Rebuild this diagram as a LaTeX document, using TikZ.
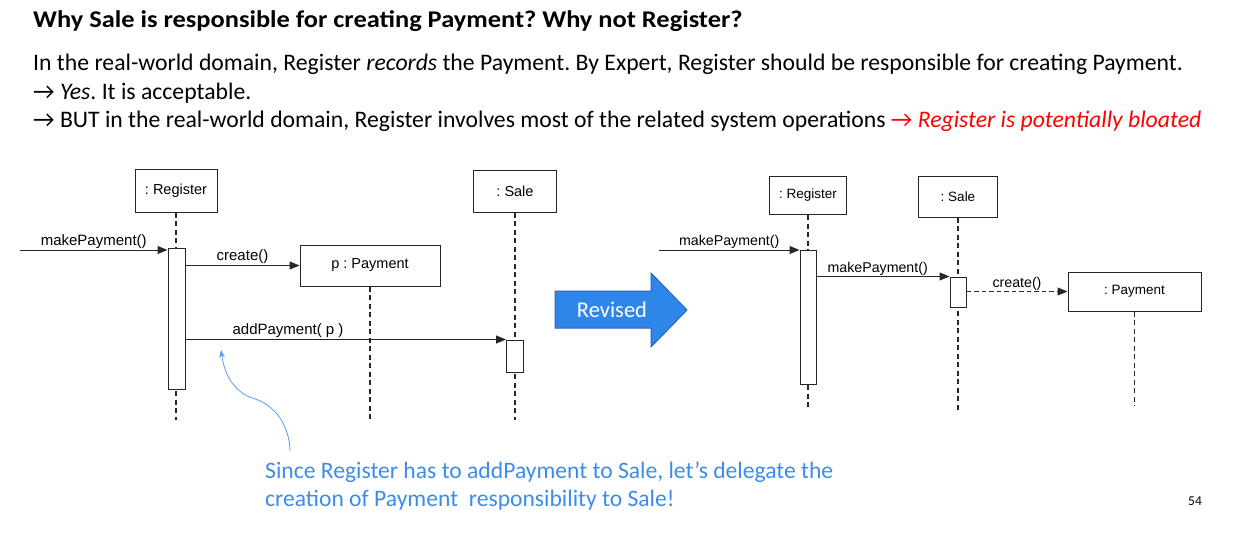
\documentclass[tikz,border=0pt]{standalone}
\usepackage{fontspec}
\setmainfont{Carlito}
\newfontfamily\diagfont{Liberation Sans}
\usetikzlibrary{arrows.meta}
\frenchspacing

\definecolor{lineclr}{HTML}{262626}
\definecolor{noteblue}{HTML}{3D8BEF}
\definecolor{revfill}{HTML}{2F86EA}
\definecolor{revedge}{HTML}{2A66B8}

\tikzset{
  objL/.style={draw=lineclr, line width=1pt, fill=white, inner sep=0pt,
    font=\diagfont\fontsize{14.5}{16}\selectfont},
  objR/.style={draw=lineclr, line width=1pt, fill=white, inner sep=0pt,
    font=\diagfont\fontsize{13.5}{15}\selectfont},
  actbar/.style={draw=lineclr, line width=1pt, fill=white, inner sep=0pt},
  life/.style={draw=lineclr, line width=1.1pt, dash pattern=on 5pt off 3.5pt},
  msg/.style={draw=lineclr, line width=1pt, -{Triangle[length=10pt,width=8pt]}},
  msgdash/.style={msg, dash pattern=on 4.5pt off 3pt},
  lblL/.style={above, inner sep=1pt, font=\diagfont\fontsize{15}{17}\selectfont},
  lblR/.style={above, inner sep=1pt, font=\diagfont\fontsize{14.2}{16}\selectfont},
  bodytext/.style={anchor=base west, inner sep=0pt, font=\fontsize{23.7}{28}\selectfont},
  notetext/.style={anchor=base west, inner sep=0pt, text=noteblue, font=\fontsize{23.6}{28}\selectfont},
}

\begin{document}
\begin{tikzpicture}[x=1pt, y=-1pt]
\useasboundingbox (0,0) rectangle (1235,559);

% heading and explanation
\node[bodytext, font=\bfseries\fontsize{24}{28}\selectfont] (title) at (33,28)
  {\scalebox{1.1}[1]{Why Sale is responsible for creating Payment? Why not Register?}};
\node[bodytext] (line1) at (33,71)
  {In the real-world domain, Register \textit{records} the Payment. By Expert, Register should be responsible for creating Payment.};
\node[bodytext] (line2) at (33,100)
  {→ \textit{Yes}. It is acceptable.};
\node[bodytext] (line3) at (33,128)
  {→ BUT in the real-world domain, Register involves most of the related system operations \textcolor{red}{→ \textit{Register is potentially bloated}}};

% ---------- original design ----------
\node[objL, minimum width=82pt, minimum height=42pt] (regL) at (176,191) {: Register};
\node[objL, minimum width=140pt, minimum height=41pt] (payL) at (370,265.5) {p : Payment};
\node[objL, minimum width=83pt, minimum height=41pt] (saleL) at (515,191.5) {: Sale};

\coordinate (regLend) at (176,420);
\coordinate (payLend) at (370,420);
\coordinate (saleLend) at (515,420);
\draw[life] (regL.south) -- (regLend);
\draw[life] (payL.south) -- (payLend);
\draw[life] (saleL.south) -- (saleLend);

\node[actbar, minimum width=17pt, minimum height=141pt] (actRegL) at (176.5,318.5) {};
\node[actbar, minimum width=17pt, minimum height=32pt] (actSaleL) at (515,356) {};

\coordinate (mpLsrc) at (20,250);
\draw[msg] (mpLsrc) -- (actRegL.west |- mpLsrc)
  node[lblL, midway] {makePayment()};
\draw[msg] (actRegL.east |- payL.west) -- (payL.west)
  node[lblL, midway] {create()};
\draw[msg] (actRegL.east |- actSaleL.north west) -- (actSaleL.north west)
  node[lblL, pos=0.32] {addPayment( p )};

% ---------- revised design ----------
\node[objR, minimum width=77pt, minimum height=38pt] (regR) at (808,195.5) {: Register};
\node[objR, minimum width=79pt, minimum height=40pt] (saleR) at (958,197) {: Sale};
\node[objR, minimum width=133pt, minimum height=39pt] (payR) at (1134.5,291.5) {: Payment};

\coordinate (regRend) at (808,410);
\coordinate (saleRend) at (958,413);
\coordinate (payRend) at (1134.5,406);
\draw[life] (regR.south) -- (regRend);
\draw[life] (saleR.south) -- (saleRend);
\draw[life] (payR.south) -- (payRend);

\node[actbar, minimum width=16pt, minimum height=134pt] (actRegR) at (808,317) {};
\node[actbar, minimum width=16pt, minimum height=30pt] (actSaleR) at (958,292) {};

\coordinate (mpRsrc) at (659,250);
\draw[msg] (mpRsrc) -- (actRegR.west |- mpRsrc)
  node[lblR, midway] {makePayment()};
\draw[msg] (actRegR.east |- actSaleR.north west) -- (actSaleR.north west)
  node[lblR, pos=0.46] {makePayment()};
\draw[msgdash] (actSaleR.east |- payR.west) -- (payR.west)
  node[lblR, midway, inner sep=0.3pt] {create()};

% ---------- block arrow between the two designs ----------
\draw[fill=revfill, draw=revedge, line width=1pt, line join=miter]
  (555,291) -- (651,291) -- (651,273) -- (687,310) -- (651,347) -- (651,328) -- (555,328) -- cycle;
\node[text=white, inner sep=0pt, font=\fontsize{22.5}{26}\selectfont] (revised) at (612,310) {Revised};

% ---------- note with its pointer ----------
\coordinate (noteStart) at (290,451);
\coordinate (noteTip) at (221,350);
\draw[noteblue!85, line width=0.8pt, -{Stealth[length=8pt,width=6pt]}]
  (noteStart) .. controls (289,418) and (268,402) .. (252,398)
  .. controls (236,392) and (225,378) .. (noteTip);
\node[notetext] (note1) at (265,478) {Since Register has to addPayment to Sale, let’s delegate the};
\node[notetext] (note2) at (265,506) {creation of Payment\ \ responsibility to Sale!};

\node[anchor=base, inner sep=0pt, font=\fontsize{13.5}{16}\selectfont] (pagenum) at (1195,505) {54};
\end{tikzpicture}
\end{document}
